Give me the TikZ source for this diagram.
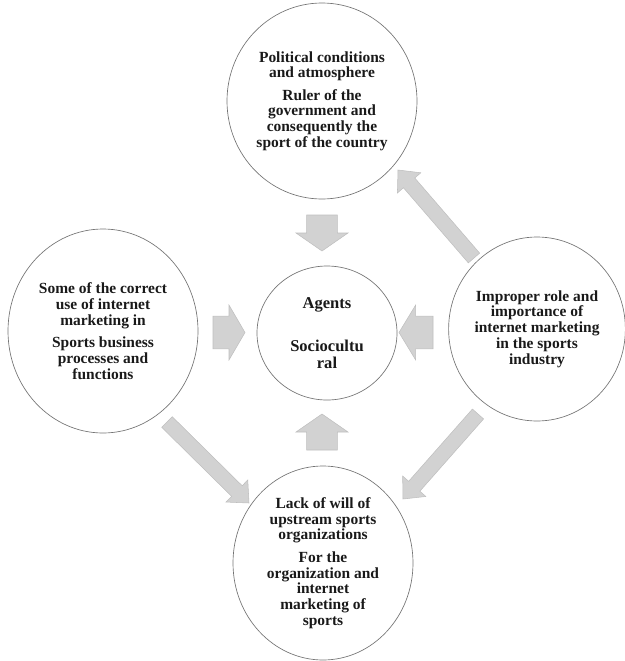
\documentclass[tikz,border=0pt]{standalone}
\usepackage{fontspec}
\setmainfont{Liberation Serif}
\usetikzlibrary{shapes.geometric,calc}
\tikzset{
  bubble/.style={ellipse, draw=black!55, line width=0.5pt, inner sep=0pt, align=center,
    font=\fontsize{11.6}{11.8}\selectfont\bfseries, text=black!90},
  blockarrow/.style={fill=gray!35, draw=gray!50, line width=0.4pt, line join=miter},
}
% tail, tip, half shaft width, half head width, head length
\newcommand\blockarr[5]{%
  \coordinate (#1-#2-h) at ($(#2)!#5!(#1)$);
  \draw[blockarrow] ($(#1)!#3!90:(#2)$) -- ($(#1-#2-h)!#3!90:(#2)$) -- ($(#1-#2-h)!#4!90:(#2)$)
    -- (#2) -- ($(#1-#2-h)!#4!-90:(#2)$) -- ($(#1-#2-h)!#3!-90:(#2)$) -- ($(#1)!#3!-90:(#2)$) -- cycle;
}
\begin{document}
\begin{tikzpicture}[x=0.75pt,y=-0.75pt]
\useasboundingbox (0,0) rectangle (625,661);
% arrow end points
\coordinate (dA) at (322,215); \coordinate (dB) at (322,251);
\coordinate (uA) at (322,450); \coordinate (uB) at (322,414);
\coordinate (rA) at (213,332.5); \coordinate (rB) at (245,332.5);
\coordinate (lA) at (433,332.5); \coordinate (lB) at (399,332.5);
\coordinate (trA) at (474,258); \coordinate (trB) at (398,170);
\coordinate (blA) at (167,422); \coordinate (blB) at (249,503);
\coordinate (brA) at (478,414); \coordinate (brB) at (403,499);
\blockarr{dA}{dB}{11.6pt}{19.5pt}{13.5pt}
\blockarr{uA}{uB}{11.6pt}{19.5pt}{13.5pt}
\blockarr{rA}{rB}{12.3pt}{20.6pt}{12pt}
\blockarr{lA}{lB}{12.3pt}{20.6pt}{12.5pt}
\blockarr{trA}{trB}{5.6pt}{11.6pt}{12.75pt}
\blockarr{blA}{blB}{5.6pt}{11.6pt}{12.75pt}
\blockarr{brA}{brB}{5.6pt}{11.6pt}{12.75pt}
% circles
\node[bubble, minimum width=142.5pt, minimum height=147pt] (top) at (322,101)
  {Political conditions\\ and atmosphere\\[5pt] Ruler of the\\ government and\\ consequently the\\ sport of the country};
\node[bubble, minimum width=142.5pt, minimum height=153pt] (left) at (103,331)
  {Some of the correct\\ use of internet\\ marketing in\\[5pt] Sports business\\ processes and\\ functions};
\node[bubble, minimum width=105pt, minimum height=100.5pt, font=\fontsize{12.4}{12.6}\selectfont\bfseries] (center) at (327,333)
  {Agents\\[20pt] Sociocultu\\ ral};
\node[bubble, minimum width=132pt, minimum height=138pt] (right) at (537,329)
  {Improper role and\\ importance of\\ internet marketing\\ in the sports\\ industry};
\node[bubble, minimum width=135pt, minimum height=145.5pt] (bottom) at (323,563)
  {Lack of will of\\ upstream sports\\ organizations\\[5pt] For the\\ organization and\\ internet\\ marketing of\\ sports};
\end{tikzpicture}
\end{document}
